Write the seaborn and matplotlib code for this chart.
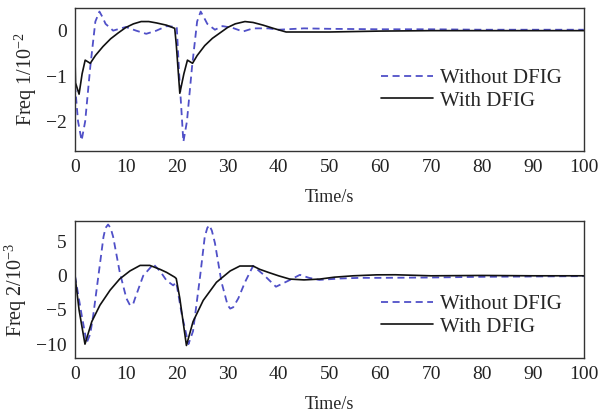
import matplotlib
matplotlib.use("Agg")
import matplotlib.pyplot as plt
import seaborn as sns

# --- Data (time in s) ---
# Panel 1: Freq 1 (x 1e-2)
t1_without = [0, 0.6, 1.3, 2.0, 3.0, 4.0, 4.8, 5.4, 6.0, 7.5, 9.0, 10.0, 12.0,
              14.0, 16.0, 18.0, 20.0, 20.5, 21.3, 22.0, 23.0, 24.0, 24.7, 25.3,
              26.0, 27.5, 29.0, 31.0, 33.0, 35.0, 38.0, 40.0, 45.0, 50.0, 60.0,
              70.0, 80.0, 90.0, 100.0]
f1_without = [-1.2, -2.0, -2.42, -2.0, -0.8, 0.2, 0.42, 0.3, 0.15, 0.0, 0.05,
              0.08, 0.0, -0.07, 0.0, 0.1, 0.08, -1.0, -2.45, -2.0, -0.8, 0.2,
              0.42, 0.3, 0.15, 0.02, 0.1, 0.06, -0.02, 0.05, 0.05, 0.02, 0.05,
              0.04, 0.03, 0.03, 0.02, 0.02, 0.02]

t1_with = [0, 0.1, 0.8, 1.4, 2.0, 3.0, 4.0, 5.5, 7.0, 8.5, 10.0, 11.5, 13.0,
           14.5, 16.0, 18.0, 19.6, 19.9, 20.6, 21.4, 22.1, 23.1, 24.0, 25.5,
           27.0, 28.5, 30.0, 31.5, 33.4, 35.0, 37.0, 39.0, 41.5, 45.0, 50.0,
           55.0, 60.0, 70.0, 80.0, 90.0, 100.0]
f1_with = [-0.6, -1.15, -1.4, -0.95, -0.65, -0.72, -0.55, -0.35, -0.18, -0.05,
           0.07, 0.15, 0.2, 0.2, 0.17, 0.12, 0.05, -0.3, -1.38, -0.95, -0.65,
           -0.72, -0.55, -0.33, -0.17, -0.05, 0.07, 0.15, 0.2, 0.18, 0.12,
           0.05, -0.03, -0.03, -0.03, -0.02, -0.01, 0.0, 0.0, 0.0, 0.0]

# Panel 2: Freq 2 (x 1e-3)
t2_without = [0, 1.3, 2.3, 3.0, 3.6, 4.6, 5.6, 6.0, 6.5, 7.0, 7.5, 8.8, 10.1,
              10.8, 11.4, 11.8, 13.4, 15.4, 16.7, 18.0, 19.3, 19.9, 21.0, 22.3,
              23.2, 24.6, 25.5, 26.0, 26.4, 26.9, 27.5, 28.8, 30.0, 30.5, 31.1,
              32.1, 33.4, 35.0, 37.0, 39.5, 42.0, 44.2, 46.0, 48.0, 52.0, 56.0,
              60.0, 70.0, 80.0, 90.0, 100.0]
f2_without = [0.0, -5.7, -9.8, -8.5, -5.7, 0.0, 5.7, 7.0, 7.5, 7.0, 5.7, 0.5,
              -3.3, -4.3, -4.2, -3.3, 0.0, 1.7, 0.7, -0.7, -1.4, -0.95, -5.7,
              -10.0, -8.1, 0.0, 5.7, 7.0, 7.4, 6.6, 4.8, -0.95, -4.3, -4.8,
              -4.6, -3.3, -0.95, 1.45, 0.2, -1.6, -0.7, 0.14, -0.3, -0.6, -0.4,
              -0.3, -0.3, -0.25, -0.15, -0.1, -0.05]

t2_with = [0, 0.8, 1.96, 3.3, 4.9, 6.9, 8.8, 10.8, 12.8, 14.7, 16.7, 18.0,
           19.6, 19.9, 20.6, 21.9, 23.2, 25.2, 27.8, 30.5, 32.4, 35.0, 36.3,
           38.0, 40.0, 42.2, 45.0, 48.1, 51.0, 54.7, 59.3, 63.0, 70.0, 80.0,
           90.0, 100.0]
f2_with = [0.0, -5.0, -10.0, -6.7, -4.3, -2.1, -0.45, 0.71, 1.52, 1.52, 0.95,
           0.5, -0.2, -0.4, -3.3, -10.2, -6.7, -3.6, -0.95, 0.71, 1.43, 1.43,
           0.95, 0.5, 0.0, -0.48, -0.6, -0.48, -0.2, 0.0, 0.14, 0.15, 0.0,
           0.05, 0.0, 0.0]

panels = [
    (t1_without, f1_without, t1_with, f1_with, "Freq 1/10$^{-2}$",
     (-2.65, 0.5), [-2, -1, 0], (0.985, 0.68)),
    (t2_without, f2_without, t2_with, f2_with, "Freq 2/10$^{-3}$",
     (-12, 8), [-10, -5, 0, 5], (0.985, 0.57)),
]

sns.set_style("white")
plt.rcParams["font.family"] = ["Liberation Serif", "DejaVu Serif"]
plt.rcParams["mathtext.fontset"] = "custom"
plt.rcParams["mathtext.rm"] = "Liberation Serif"
plt.rcParams["mathtext.it"] = "Liberation Serif:italic"
plt.rcParams["axes.unicode_minus"] = True

fig = plt.figure(figsize=(6.0, 4.18), dpi=100)
rects = [[0.125, 0.639, 0.848, 0.342], [0.125, 0.144, 0.848, 0.327]]

for rect, (tw, fw, tc, fc, ylab, ylim, yticks, lpos) in zip(rects, panels):
    ax = fig.add_axes(rect)
    sns.lineplot(x=tw, y=fw, ax=ax, color="#5050c8", linewidth=1.3,
                 dashes=False, label="Without DFIG", sort=False)
    ax.lines[-1].set_dashes((3.9, 2.5))
    sns.lineplot(x=tc, y=fc, ax=ax, color="#111111", linewidth=1.2,
                 label="With DFIG", sort=False)
    ax.set_xlim(0, 100)
    ax.set_ylim(*ylim)
    ax.set_xticks(range(0, 101, 10))
    ax.set_yticks(yticks)
    ax.tick_params(direction="in", length=4, width=0.8, labelsize=14,
                   colors="#222222", pad=6)
    for sp in ax.spines.values():
        sp.set_color("#333333")
        sp.set_linewidth(1.0)
    ax.set_xlabel("Time/s", fontsize=13, labelpad=9)
    ax.set_ylabel(ylab, fontsize=14.5, labelpad=5)
    ax.legend(loc="upper right", bbox_to_anchor=lpos, frameon=False,
              fontsize=15, handlelength=2.5, handletextpad=0.3,
              labelspacing=0.15, borderpad=0.2)

fig.savefig("out.png", dpi=100)
